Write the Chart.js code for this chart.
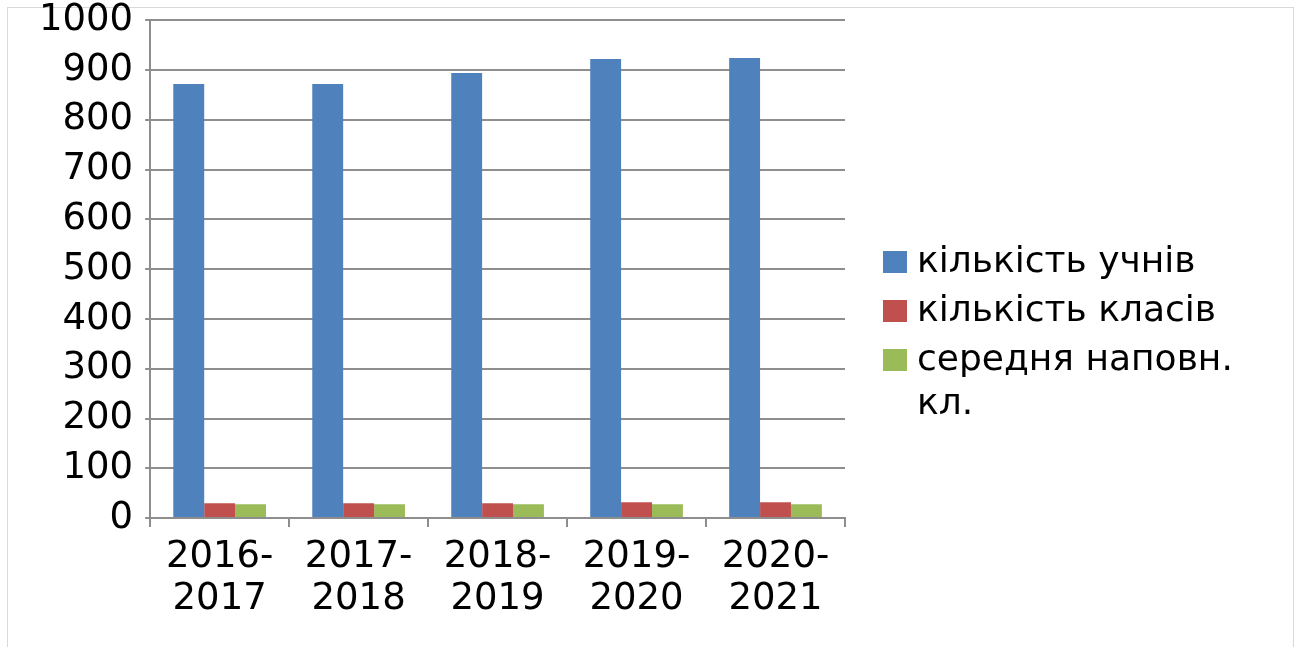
<!DOCTYPE html>
<html>
<head>
<meta charset="utf-8">
<script src="https://cdn.jsdelivr.net/npm/chart.js@4/dist/chart.umd.min.js"></script>
<style>
  html, body { margin: 0; padding: 0; background: #fff; overflow: hidden; }
  #wrap { position: relative; width: 1302px; height: 647px; overflow: hidden; }
  #frame { position: absolute; left: 7px; top: 7px; width: 1287px; height: 640px; border: 1px solid #d9d9d9; border-bottom: none; box-sizing: border-box; }
  #chart { position: absolute; left: 0; top: -14px; }
</style>
</head>
<body>
<div id="wrap">
  <div id="frame"></div>
  <canvas id="chart" width="1302" height="661"></canvas>
</div>
<script>
// дані з діаграми
const years = [["2016-", "2017"], ["2017-", "2018"], ["2018-", "2019"], ["2019-", "2020"], ["2020-", "2021"]];
const pupils = [872, 872, 894, 922, 924];
const classes = [30, 30, 30, 32, 32];
const avgFill = [28, 28, 28, 28, 28];
const seriesNames = ["кількість учнів", "кількість класів", ["середня наповн.", "кл."]];
const colors = ["#4f81bd", "#c0504d", "#9bbb59"];

const FONT = "'DejaVu Sans', sans-serif";

// легенда справа, з переносом рядка як в оригіналі
const sideLegend = {
  id: "sideLegend",
  afterDraw(chart) {
    const ctx = chart.ctx;
    const area = chart.chartArea;
    const x0 = area.right + 38;
    let y = 263 + 14;
    ctx.save();
    ctx.font = "36px " + FONT;
    ctx.textBaseline = "middle";
    ctx.textAlign = "left";
    chart.data.datasets.forEach((ds, i) => {
      ctx.fillStyle = ds.backgroundColor;
      ctx.fillRect(x0, y - 12, 24, 22);
      ctx.fillStyle = "#000";
      const lines = Array.isArray(seriesNames[i]) ? seriesNames[i] : [seriesNames[i]];
      lines.forEach((t, k) => ctx.fillText(t, x0 + 34, y + k * 44));
      y += 49;
    });
    ctx.restore();
  }
};

new Chart(document.getElementById("chart"), {
  type: "bar",
  data: {
    labels: years,
    datasets: [
      { label: "кількість учнів", data: pupils, backgroundColor: colors[0] },
      { label: "кількість класів", data: classes, backgroundColor: colors[1] },
      { label: "середня наповн. кл.", data: avgFill, backgroundColor: colors[2] }
    ]
  },
  options: {
    responsive: false,
    animation: false,
    layout: { padding: { left: 27, right: 457, top: 0, bottom: 17 } },
    datasets: { bar: { categoryPercentage: 0.667, barPercentage: 1 } },
    plugins: {
      legend: { display: false },
      tooltip: { enabled: false }
    },
    scales: {
      x: {
        grid: { drawOnChartArea: false, offset: true, color: "#8e8e8e", lineWidth: 2, tickLength: 9 },
        border: { color: "#8e8e8e", width: 2 },
        ticks: { color: "#000", font: { family: FONT, size: 37, lineHeight: 1.12 }, padding: 10, maxRotation: 0 }
      },
      y: {
        min: 0,
        max: 1000,
        grid: { color: "#8e8e8e", lineWidth: 2, tickLength: 5 },
        border: { color: "#8e8e8e", width: 2 },
        ticks: { stepSize: 100, color: "#000", font: { family: FONT, size: 37 }, padding: 12,
                 callback: v => String(v) }
      }
    }
  },
  plugins: [sideLegend]
});
</script>
</body>
</html>
